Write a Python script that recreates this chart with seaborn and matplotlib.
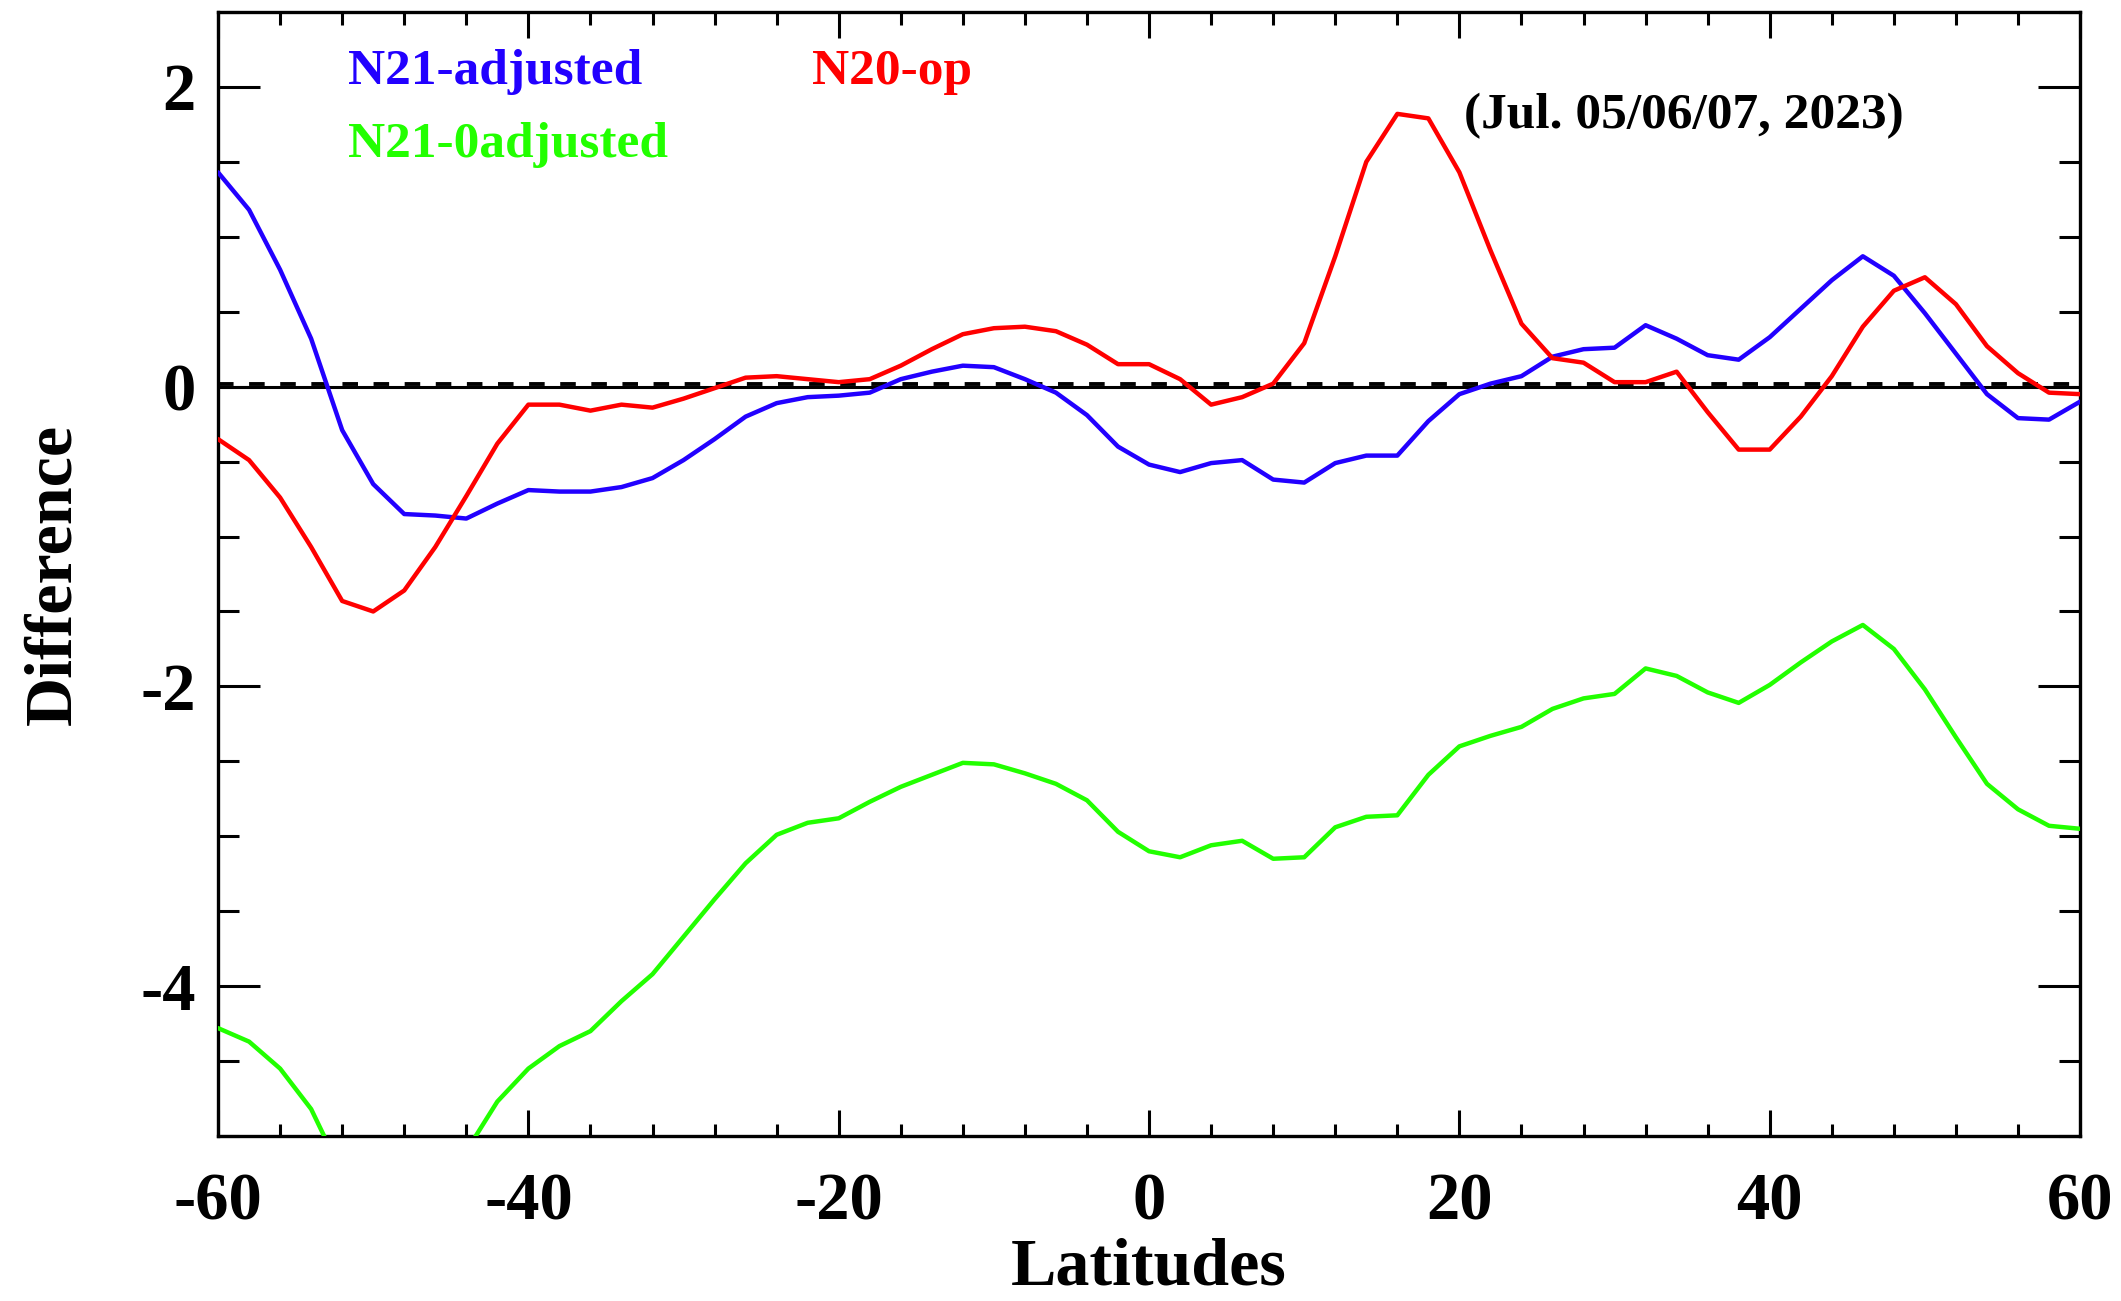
import numpy as np
import pandas as pd
import matplotlib
matplotlib.use("Agg")
import matplotlib.pyplot as plt
import seaborn as sns

# Latitude grid (degrees)
lat = [-60, -58, -56, -54, -52, -50, -48, -46, -44, -42, -40, -38, -36, -34,
       -32, -30, -28, -26, -24, -22, -20, -18, -16, -14, -12, -10, -8, -6,
       -4, -2, 0, 2, 4, 6, 8, 10, 12, 14, 16, 18, 20, 22, 24, 26, 28, 30,
       32, 34, 36, 38, 40, 42, 44, 46, 48, 50, 52, 54, 56, 58, 60]

n21_adjusted = [1.43, 1.18, 0.78, 0.32, -0.29, -0.65, -0.85, -0.86, -0.88, -0.78,
                -0.69, -0.70, -0.70, -0.67, -0.61, -0.49, -0.35, -0.20, -0.11, -0.07,
                -0.06, -0.04, 0.05, 0.10, 0.14, 0.13, 0.05, -0.04, -0.19, -0.40,
                -0.52, -0.57, -0.51, -0.49, -0.62, -0.64, -0.51, -0.46, -0.46, -0.23,
                -0.05, 0.02, 0.07, 0.20, 0.25, 0.26, 0.41, 0.32, 0.21, 0.18,
                0.33, 0.52, 0.71, 0.87, 0.74, 0.49, 0.22, -0.05, -0.21, -0.22, -0.10]

n20_op = [-0.35, -0.49, -0.74, -1.07, -1.43, -1.50, -1.36, -1.07, -0.73, -0.38,
          -0.12, -0.12, -0.16, -0.12, -0.14, -0.08, -0.01, 0.06, 0.07, 0.05,
          0.03, 0.05, 0.14, 0.25, 0.35, 0.39, 0.40, 0.37, 0.28, 0.15,
          0.15, 0.05, -0.12, -0.07, 0.02, 0.29, 0.87, 1.50, 1.82, 1.79,
          1.43, 0.91, 0.42, 0.19, 0.16, 0.03, 0.03, 0.10, -0.17, -0.42,
          -0.42, -0.20, 0.07, 0.40, 0.64, 0.73, 0.55, 0.27, 0.09, -0.04, -0.05]

n21_0adjusted = [-4.28, -4.37, -4.55, -4.82, -5.25, -5.55, -5.65, -5.55, -5.10, -4.77,
                 -4.55, -4.40, -4.30, -4.10, -3.92, -3.67, -3.42, -3.18, -2.99, -2.91,
                 -2.88, -2.77, -2.67, -2.59, -2.51, -2.52, -2.58, -2.65, -2.76, -2.97,
                 -3.10, -3.14, -3.06, -3.03, -3.15, -3.14, -2.94, -2.87, -2.86, -2.59,
                 -2.40, -2.33, -2.27, -2.15, -2.08, -2.05, -1.88, -1.93, -2.04, -2.11,
                 -1.99, -1.84, -1.70, -1.59, -1.75, -2.02, -2.34, -2.65, -2.82, -2.93, -2.95]

series_names = ["N21-adjusted", "N20-op", "N21-0adjusted"]
series_colors = ["#2200ff", "#ff0000", "#22ff00"]
date_label = "(Jul. 05/06/07, 2023)"

df = pd.DataFrame({
    "Latitudes": lat * 3,
    "Difference": n21_adjusted + n20_op + n21_0adjusted,
    "series": [series_names[0]] * len(lat) + [series_names[1]] * len(lat)
              + [series_names[2]] * len(lat),
})

sns.set_style("ticks")
plt.rcParams["font.family"] = ["Liberation Serif", "DejaVu Serif"]
plt.rcParams["font.weight"] = "bold"
plt.rcParams["axes.unicode_minus"] = False
plt.rcParams["axes.labelcolor"] = "black"
plt.rcParams["text.color"] = "black"

fig = plt.figure(figsize=(21.21, 13.01), dpi=100)
ax = fig.add_axes([0.1028, 0.1268, 0.8779, 0.864])

# zero reference: solid line with dashes on top
ax.axhline(0, color="black", lw=2.2, zorder=1)
ax.axhline(0.02, color="black", lw=2.8, ls=(0, (4, 4)), zorder=1)

sns.lineplot(data=df, x="Latitudes", y="Difference", hue="series",
             hue_order=series_names, palette=series_colors, lw=3.2,
             legend=False, ax=ax, zorder=3)

ax.set_xlim(-60, 60)
ax.set_ylim(-5, 2.5)
ax.set_xticks(np.arange(-60, 61, 20))
ax.set_xticks(np.arange(-60, 61, 4), minor=True)
ax.set_yticks([-4, -2, 0, 2])
ax.set_yticks(np.arange(-5, 2.51, 0.5), minor=True)

for s in ax.spines.values():
    s.set_linewidth(2.4)
    s.set_visible(True)
    s.set_color("black")

ax.tick_params(axis="both", which="both", direction="in", top=True, right=True,
               width=2.2, colors="black", labelsize=48)
ax.tick_params(axis="x", which="major", length=19, pad=26)
ax.tick_params(axis="x", which="minor", length=9)
ax.tick_params(axis="y", which="major", length=30, pad=16)
ax.tick_params(axis="y", which="minor", length=15)
for lbl in ax.get_xticklabels() + ax.get_yticklabels():
    lbl.set_fontweight("bold")

ax.set_xlabel("Latitudes", fontsize=49, fontweight="bold", labelpad=3)
ax.set_ylabel("Difference", fontsize=49, fontweight="bold", labelpad=40)

ax.text(0.0697, 0.936, series_names[0], color=series_colors[0], fontsize=37,
        fontweight="bold", transform=ax.transAxes, va="baseline")
ax.text(0.319, 0.936, series_names[1], color=series_colors[1], fontsize=37,
        fontweight="bold", transform=ax.transAxes, va="baseline")
ax.text(0.0697, 0.871, series_names[2], color=series_colors[2], fontsize=37,
        fontweight="bold", transform=ax.transAxes, va="baseline")
ax.text(0.669, 0.897, date_label, color="black", fontsize=37,
        fontweight="bold", transform=ax.transAxes, va="baseline")

fig.savefig("out.png", dpi=100)
